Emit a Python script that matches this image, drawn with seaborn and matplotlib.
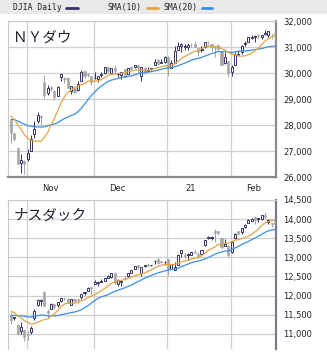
import numpy as np
import pandas as pd
import matplotlib
matplotlib.use("Agg")
import matplotlib.pyplot as plt
from matplotlib.lines import Line2D
from matplotlib.patches import Rectangle
import seaborn as sns

# 取引日 (2020-10-26 .. 2021-02-19)
holidays = ['2020-11-26', '2020-12-25', '2021-01-01', '2021-01-18', '2021-02-15']
days = pd.bdate_range('2020-10-26', '2021-02-19')
days = days[~days.isin(pd.to_datetime(holidays))]

month_labels = ['Nov', 'Dec', '21', 'Feb']

# NYダウ  OHLC
dow_warmup = [27452, 27782, 27817, 27683, 28149, 27773, 28303, 28426, 28587, 28838,
              28680, 28514, 28494, 28606, 28195, 28309, 28211, 28364, 28336]
dow_open = [28180, 27690, 27100, 26530, 26600, 26700, 27000, 27660, 28160, 28350,
            29640, 29230, 29450, 29300, 29130, 29850, 29800, 29800, 29300, 29430,
            29350, 29700, 30060, 29950, 29880, 29800, 29760, 29930, 30000, 30220,
            30000, 30180, 29980, 29910, 30150, 29970, 30240, 30230, 30290, 29900,
            30200, 30070, 30160, 30300, 30490, 30390, 30430, 30630, 30200, 30400,
            30900, 31050, 31000, 31000, 31070, 31100, 30950, 30900, 31000, 31200,
            31100, 31000, 31060, 30800, 30400, 30450, 30050, 30300, 30700, 30800,
            31100, 31200, 31350, 31400, 31450, 31400, 31500, 31480, 31500, 31520]
dow_high = [28190, 27700, 27150, 26900, 26660, 27090, 27600, 28170, 28500, 28400,
            29933, 29550, 29500, 29350, 29500, 29960, 29860, 29840, 29500, 29480,
            29710, 30116, 30070, 29990, 29890, 30030, 29900, 30040, 30220, 30230,
            30180, 30320, 30000, 30050, 30170, 30200, 30270, 30320, 30290, 30230,
            30230, 30230, 30210, 30530, 30520, 30520, 30640, 30670, 30500, 31020,
            31200, 31140, 31100, 31170, 31150, 31220, 30960, 31030, 31200, 31250,
            31100, 31030, 31110, 30800, 30800, 30470, 30320, 30800, 30880, 31060,
            31250, 31400, 31460, 31480, 31500, 31460, 31640, 31620, 31500, 31600]
dow_low = [27320, 27390, 26500, 26143, 26100, 26630, 27000, 27500, 28090, 28000,
           29050, 29150, 29300, 28980, 29130, 29710, 29630, 29430, 29200, 29240,
           29300, 29700, 29820, 29830, 29550, 29780, 29650, 29860, 29980, 30000,
           29970, 29970, 29840, 29770, 29850, 29960, 30100, 30200, 30000, 29700,
           29980, 30050, 30120, 30290, 30300, 30380, 30400, 29880, 30200, 30400,
           30900, 30810, 30900, 30870, 31000, 30990, 30660, 30820, 30950, 31100,
           30860, 30600, 30900, 30300, 30350, 29850, 29900, 30300, 30640, 30750,
           31050, 31200, 31300, 31200, 31300, 31300, 31450, 31370, 31300, 31400]
dow_close = [27685, 27463, 26519, 26659, 26501, 26925, 27480, 27847, 28390, 28323,
             29157, 29420, 29397, 29080, 29479, 29950, 29783, 29438, 29483, 29263,
             29591, 30046, 29872, 29910, 29639, 29823, 29883, 29969, 30218, 30070,
             30174, 30068, 29999, 30046, 29862, 30200, 30155, 30304, 30179, 30216,
             30016, 30130, 30200, 30404, 30336, 30410, 30606, 30224, 30392, 30829,
             31041, 31098, 31009, 31069, 31061, 30992, 30814, 30931, 31188, 31176,
             30997, 30960, 30937, 30303, 30603, 29983, 30212, 30688, 30724, 31056,
             31148, 31386, 31375, 31438, 31431, 31458, 31523, 31613, 31494, 31494]

# ナスダック  OHLC
nas_warmup = [11085, 11168, 11326, 11076, 11332, 11154, 11365, 11420, 11580, 11876,
              11863, 11768, 11714, 11672, 11479, 11517, 11485, 11506, 11548]
nas_open = [11500, 11400, 11230, 11070, 11100, 11000, 11050, 11400, 11750, 11850,
            12100, 11600, 11650, 11790, 11750, 11850, 11920, 11910, 11760, 11900,
            11900, 11950, 12060, 12130, 12200, 12300, 12320, 12350, 12390, 12470,
            12480, 12600, 12300, 12350, 12450, 12500, 12600, 12700, 12800, 12600,
            12780, 12800, 12790, 12900, 12950, 12900, 12870, 12950, 12700, 12660,
            12800, 13100, 13050, 13070, 13070, 13150, 13080, 13080, 13330, 13500,
            13500, 13700, 13700, 13500, 13300, 13300, 13150, 13500, 13680, 13650,
            13800, 13900, 13950, 14060, 14000, 14000, 14120, 13930, 13900, 13920]
nas_high = [11560, 11450, 11260, 11300, 11120, 11080, 11200, 11650, 11920, 11920,
            12110, 11650, 11800, 11800, 11840, 11930, 11970, 11940, 11910, 11920,
            11920, 12040, 12100, 12210, 12210, 12400, 12350, 12420, 12470, 12540,
            12590, 12610, 12420, 12380, 12500, 12600, 12660, 12770, 12800, 12750,
            12810, 12850, 12810, 12930, 12980, 12900, 12900, 12960, 12830, 12870,
            13080, 13200, 13100, 13100, 13150, 13200, 13140, 13200, 13460, 13550,
            13560, 13730, 13700, 13500, 13480, 13320, 13420, 13640, 13690, 13780,
            13880, 13990, 14030, 14070, 14030, 14100, 14175, 13990, 13900, 13970]
nas_low = [11250, 11350, 11000, 11000, 10820, 10840, 11000, 11360, 11720, 11720,
           11700, 11400, 11650, 11650, 11700, 11820, 11870, 11800, 11740, 11850,
           11800, 11900, 12020, 12130, 12050, 12300, 12250, 12350, 12380, 12460,
           12460, 12300, 12260, 12260, 12400, 12480, 12580, 12690, 12690, 12520,
           12740, 12770, 12770, 12820, 12830, 12850, 12800, 12540, 12690, 12660,
           12800, 13000, 12990, 12920, 13060, 13110, 12980, 13060, 13300, 13480,
           13450, 13400, 13590, 13220, 13300, 13000, 13110, 13480, 13600, 13620,
           13770, 13890, 13940, 13860, 13920, 13970, 14030, 13870, 13790, 13830]
nas_close = [11358, 11431, 11005, 11186, 10912, 10957, 11161, 11590, 11890, 11895,
             11713, 11554, 11786, 11710, 11829, 11925, 11899, 11802, 11904, 11855,
             11881, 12037, 12095, 12206, 12199, 12355, 12349, 12377, 12464, 12519,
             12582, 12339, 12406, 12378, 12441, 12596, 12658, 12765, 12756, 12742,
             12807, 12772, 12805, 12900, 12850, 12870, 12888, 12698, 12819, 12741,
             13067, 13202, 13036, 13072, 13128, 13113, 12998, 13197, 13457, 13530,
             13543, 13636, 13626, 13271, 13337, 13070, 13403, 13612, 13610, 13778,
             13856, 13987, 14007, 13973, 14025, 14095, 14047, 13965, 13865, 13874]

NAVY = '#333366'
GRAY = '#a3a3a3'
ORANGE = '#e3a443'
BLUE = '#3a8ee6'
GRID = '#cfcfcf'

sns.set_style("white")
plt.rcParams['font.family'] = ['DejaVu Sans']

W, H = 327, 358
fig = plt.figure(figsize=(W / 100, H / 100), dpi=100)

# 上部の凡例帯
fig.patches.append(Rectangle((0, 1 - 14 / H), 1, 14 / H, transform=fig.transFigure,
                             facecolor='#e9e9e9', edgecolor='none', zorder=0))
ty = 1 - 7.5 / H
mono = dict(family='DejaVu Sans Mono', fontsize=5.8, color='#222222', va='center')
fig.text(13 / W, ty, 'DJIA Daily', **mono)
fig.text(107 / W, ty, 'SMA(10)', **mono)
fig.text(163 / W, ty, 'SMA(20)', **mono)
for x0, x1, c in [(66, 78, NAVY), (147, 158, ORANGE), (202, 212, BLUE)]:
    fig.add_artist(Line2D([x0 / W, x1 / W], [ty, ty], transform=fig.transFigure,
                          color=c, lw=2))

ax1 = fig.add_axes([8 / W, 1 - 177 / H, 268 / W, 156 / H])
ax2 = fig.add_axes([8 / W, 1 - 349 / H, 268 / W, 149 / H])

idx = np.arange(len(days))
month_start = [int(np.argmax(days.month == m)) for m in [11, 12, 1, 2]]


def draw_panel(ax, o, h, l, c, warmup, ylim, yticks, title):
    o, h, l, c = map(np.asarray, (o, h, l, c))
    full = pd.Series(list(warmup) + list(c), dtype=float)
    sma10 = full.rolling(10).mean().to_numpy()[len(warmup):]
    sma20 = full.rolling(20).mean().to_numpy()[len(warmup):]

    for m in month_start:
        ax.axvline(m - 0.3, color=GRID, lw=0.9, zorder=0)
    for t in yticks:
        ax.axhline(t, color=GRID, lw=0.9, zorder=0)

    up = c >= o
    bottom = np.minimum(o, c)
    height = np.maximum(np.abs(c - o), (ylim[1] - ylim[0]) * 0.004)
    ax.vlines(idx[up], l[up], h[up], color=NAVY, lw=0.7, zorder=2)
    ax.vlines(idx[~up], l[~up], h[~up], color=GRAY, lw=0.7, zorder=2)
    ax.bar(idx[~up], height[~up], bottom=bottom[~up], width=0.62,
           color=GRAY, edgecolor=GRAY, lw=0.4, zorder=3)
    ax.bar(idx[up], height[up], bottom=bottom[up], width=0.62,
           color='white', edgecolor=NAVY, lw=0.7, zorder=3)

    sns.lineplot(x=idx, y=sma20, ax=ax, color=BLUE, lw=0.9, zorder=4)
    sns.lineplot(x=idx, y=sma10, ax=ax, color=ORANGE, lw=0.9, zorder=4)

    ax.set_xlim(-0.9, len(idx) - 0.7)
    ax.set_ylim(*ylim)
    ax.yaxis.tick_right()
    ax.set_yticks(yticks)
    ax.set_yticklabels([f'{t:,}' for t in yticks])
    ax.tick_params(axis='y', length=0, pad=5, labelsize=6, labelcolor='#222222')
    ax.set_xlabel('')
    ax.set_ylabel('')
    for s in ['top', 'left']:
        ax.spines[s].set_color('#c8c8c8')
        ax.spines[s].set_linewidth(0.8)
    for s in ['right', 'bottom']:
        ax.spines[s].set_color('#8a8a8a')
        ax.spines[s].set_linewidth(1.6)
    ax.text(0.02, 0.94, title, transform=ax.transAxes, ha='left', va='top',
            fontsize=10.5, color='#222233',
            family=['Noto Sans CJK JP', 'DejaVu Sans'])


draw_panel(ax1, dow_open, dow_high, dow_low, dow_close, dow_warmup,
           (26000, 32000), list(range(26000, 32001, 1000)), 'ＮＹダウ')
draw_panel(ax2, nas_open, nas_high, nas_low, nas_close, nas_warmup,
           (10600, 14500), list(range(11000, 14501, 500)), 'ナスダック')

ax1.set_xticks([m + 6.7 for m in month_start])
ax1.set_xticklabels(month_labels)
ax1.tick_params(axis='x', length=0, pad=5, labelsize=6, labelcolor='#222222')
ax2.set_xticks([])
ax2.spines['bottom'].set_visible(False)
ax2.spines['right'].set_color('#7a7a95')

fig.savefig('out.png', dpi=100)
